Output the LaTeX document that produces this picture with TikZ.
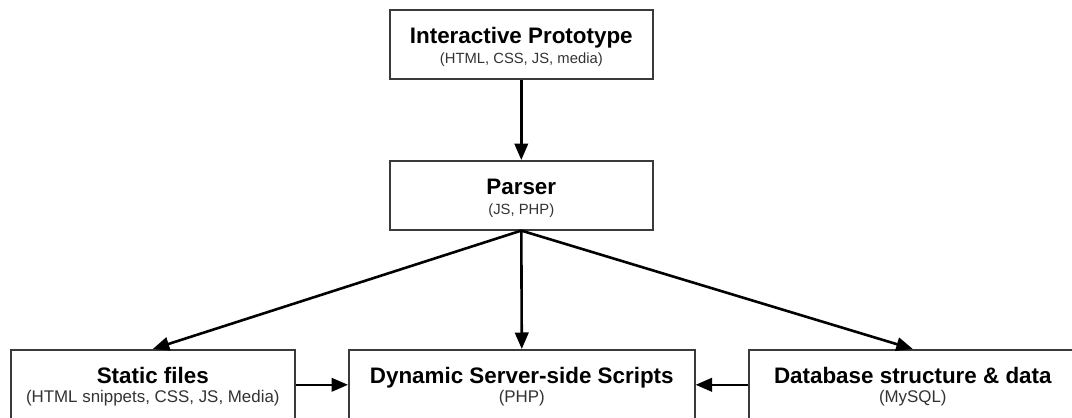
\documentclass[tikz,border=0pt]{standalone}
\usepackage{fontspec}
\setmainfont{Liberation Sans}
\usetikzlibrary{arrows.meta,calc}
\definecolor{boxgray}{HTML}{3A3A3A}
\definecolor{subgray}{HTML}{333333}
\begin{document}
\begin{tikzpicture}[x=1pt,y=-1pt,
  box/.style={draw=boxgray, line width=1.6pt, minimum width=#1, minimum height=69pt,
              inner sep=0pt, anchor=north west},
  lowbox/.style={box=#1, minimum height=70pt},
  ttl/.style={anchor=base, inner sep=0pt, font=\fontsize{22.4}{25}\selectfont\bfseries},
  sub/.style={anchor=base, inner sep=0pt, text=subgray, font=\fontsize{14.8}{17}\selectfont},
  lowsub/.style={sub, font=\fontsize{16.9}{19}\selectfont},
  arr/.style={line width=2.6pt, -{Triangle[length=16.5pt,width=13.5pt]}}]
\useasboundingbox (0,0) rectangle (1072,418);
\fill[white] (0,0) rectangle (1072,418);

% boxes
\node[box=263pt] (proto) at (389,9) {};
\node[box=263pt] (parser) at (389,160) {};
\node[lowbox=284pt] (static) at (10,349) {};
\node[lowbox=346pt] (dynamic) at (348,349) {};
\node[lowbox=328pt] (db) at (748,349) {};

% texts
\node[ttl] (protot) at ($(proto.north)+(0,34.5)$) {Interactive Prototype};
\node[sub] (protos) at ($(proto.north)+(0,54)$) {(HTML, CSS, JS, media)};
\node[ttl] (parsert) at ($(parser.north)+(0,34.5)$) {Parser};
\node[sub] (parsers) at ($(parser.north)+(0,54)$) {(JS, PHP)};
\node[ttl] (statict) at ($(static.north)+(0,34)$) {Static files};
\node[lowsub] (statics) at ($(static.north)+(0,53.5)$) {(HTML snippets, CSS, JS, Media)};
\node[ttl] (dynamict) at ($(dynamic.north)+(0,34)$) {Dynamic Server-side Scripts};
\node[lowsub] (dynamics) at ($(dynamic.north)+(0,53.5)$) {(PHP)};
\node[ttl] (dbt) at ($(db.north)+(0,34)$) {Database structure \& data};
\node[lowsub] (dbs) at ($(db.north)+(0,53.5)$) {(MySQL)};

% connectors
\draw[arr] (proto.south) -- (parser.north);
\draw[arr] (parser.south) -- (dynamic.north);
\draw[arr] (parser.south) -- (static.north);
\draw[arr] (parser.south) -- (db.north);
\draw[arr] (static.east) -- (dynamic.west);
\draw[arr] (db.west) -- (dynamic.east);
\end{tikzpicture}
\end{document}
